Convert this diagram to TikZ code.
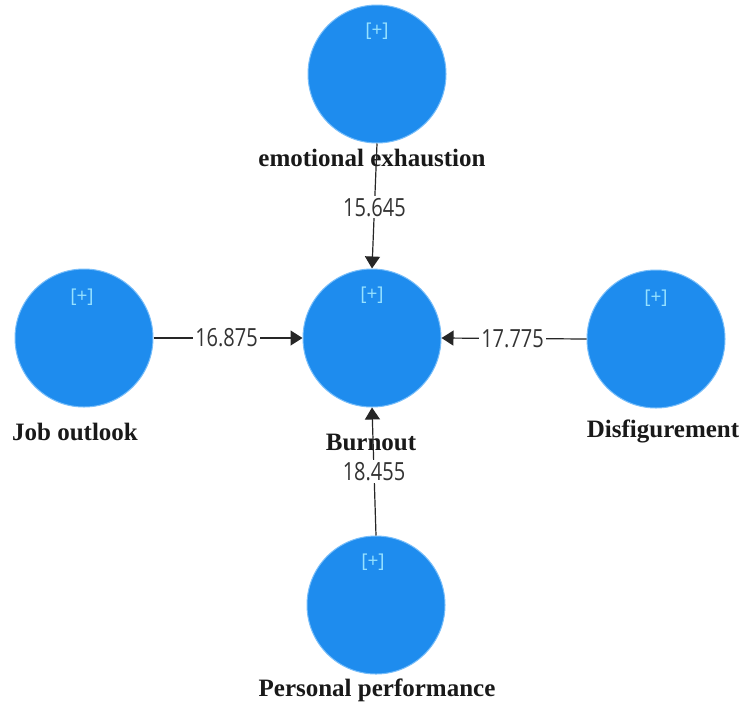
\documentclass[tikz,border=0pt]{standalone}
\usepackage{fontspec}
\setmainfont{Liberation Serif}
\newfontfamily\numfont[FakeStretch=0.8]{Open Sans}
\newfontfamily\plusfont{Open Sans}
\usetikzlibrary{arrows.meta}
\definecolor{lvblue}{RGB}{30,140,238}
\definecolor{lvedge}{RGB}{120,190,250}
\definecolor{plusc}{RGB}{150,225,255}
\begin{document}
\begin{tikzpicture}[x=1pt,y=-1pt,
  lv/.style={circle,fill=lvblue,draw=lvedge,line width=1pt,minimum size=138pt,inner sep=0pt},
  lvname/.style={font=\bfseries\fontsize{25}{28}\selectfont,text=black!90,inner sep=0pt},
  plus/.style={font=\plusfont\fontsize{19}{22}\selectfont,text=plusc,inner sep=0pt},
  path/.style={line width=1.2pt,draw=black!85,-{Triangle[width=15pt,length=12pt]}},
  coef/.style={font=\numfont\fontsize{25}{28}\selectfont,text=black!80,fill=white,inner sep=2pt}]
\useasboundingbox (0,0) rectangle (746,710);
\fill[white] (0,0) rectangle (746,710);
% latent variables
\node[lv] (ee) at (377,74) {};
\node[lv] (bo) at (372,338) {};
\node[lv] (jo) at (84,338) {};
\node[lv] (df) at (656,339) {};
\node[lv] (pp) at (376,605) {};
% [+] markers
\node[plus] (eep) at (377,31) {[+]};
\node[plus] (bop) at (372,295) {[+]};
\node[plus] (jop) at (82,297) {[+]};
\node[plus] (dfp) at (656,298) {[+]};
\node[plus] (ppp) at (373,562) {[+]};
% names
\node[lvname] (een) at (372,158) {emotional exhaustion};
\node[lvname] (bon) at (371,442) {Burnout};
\node[lvname] (jon) at (75,432) {Job outlook};
\node[lvname] (dfn) at (663,431) {Disfigurement};
\node[lvname] (ppn) at (377,690) {Personal performance};
% paths
\draw[path] (ee.south) -- node[coef,pos=0.51] (c1) {15.645} (bo.north);
\draw[path] (jo.east) -- node[coef,pos=0.49] (c2) {16.875} (bo.west);
\draw[path] (df.west) -- node[coef,pos=0.51] (c3) {17.775} (bo.east);
\draw[path] (pp.north) -- node[coef,pos=0.5] (c4) {18.455} (bo.south);
\end{tikzpicture}
\end{document}
